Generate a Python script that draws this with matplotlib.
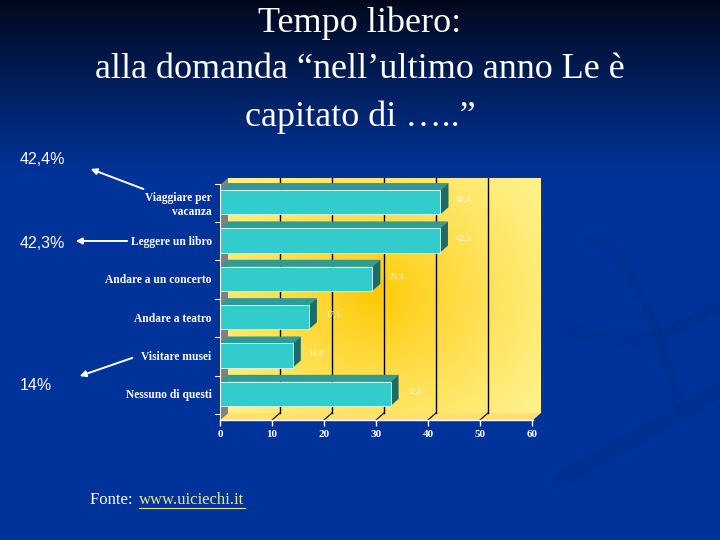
import numpy as np
import matplotlib
matplotlib.use("Agg")
import matplotlib.pyplot as plt
from matplotlib.patches import Polygon

# data
categorie = ["Viaggiare per\nvacanza", "Leggere un libro", "Andare a un concerto",
             "Andare a teatro", "Visitare musei", "Nessuno di questi"]
valori = [42.4, 42.3, 29.3, 17.1, 14.0, 32.8]
etichette = ["42,4", "42,3", "29,3", "17,1", "14,0", "32,8"]
xticks = [0, 10, 20, 30, 40, 50, 60]
richiami = ["42,4%", "42,3%", "14%"]

W, H = 720, 540
fig = plt.figure(figsize=(7.2, 5.4), dpi=100)

# background: dark navy on top fading to blue
bg = fig.add_axes([0, 0, 1, 1])
bg.set_xlim(0, W)
bg.set_ylim(H, 0)
bg.axis("off")
yy = np.linspace(0, 1, 200)[:, None]
top = np.array([0.0, 0.03, 0.10])
mid = np.array([0.0, 0.2, 0.6])
t = np.clip(yy / 0.32, 0, 1) ** 0.9
grad = top + (mid - top) * t
grad = np.repeat(grad[:, None, :], 2, axis=1).reshape(200, 2, 3)
bg.imshow(grad, extent=[0, W, H, 0], aspect="auto", zorder=0)

# faint swooshes on the right
sw = dict(color="#002a80", alpha=0.25, solid_capstyle="round", zorder=1)
s = np.linspace(0, 1, 60)
bg.plot(570 + 150 * s, 330 - 25 * s + 20 * np.sin(np.pi * s), lw=9, **sw)
bg.plot(560 + 160 * s, 480 - 90 * s, lw=12, **sw)
bg.plot(590 + 90 * s, 240 + 170 * s ** 2, lw=7, **sw)

# title
for txt, y in zip(["Tempo libero:", "alla domanda \u201cnell\u2019ultimo anno Le \u00e8",
                   "capitato di \u2026..\u201d"], [23, 70, 117]):
    bg.text(360, y, txt, color="white", fontsize=26, family="Liberation Serif",
            ha="center", va="center")

# chart axes: value 0 at x=220, value 60 at x=532
x0, x1 = 220, 541
y_top, y_bot = 178, 420
ax = fig.add_axes([x0 / W, 1 - y_bot / H, (x1 - x0) / W, (y_bot - y_top) / H])
xmax = 60 * (x1 - x0) / 312.0
n = len(categorie)
pos = np.arange(n)
ymin, ymax = -0.63, 5.68
ax.set_xlim(0, xmax)
ax.set_ylim(ymax, ymin)
ax.patch.set_alpha(0)
for sp in ax.spines.values():
    sp.set_visible(False)

dx = 8 * xmax / (x1 - x0)
dy = 7 / 38.3

# back wall with yellow radial gradient
gx, gy = np.meshgrid(np.linspace(0, 1, 200), np.linspace(0, 1, 200))
r = np.sqrt(((gx - 0.47) / 0.75) ** 2 + ((gy - 0.5) / 0.9) ** 2)
r = np.clip(r, 0, 1)
c0 = np.array([1.0, 0.78, 0.0])
c1 = np.array([1.0, 0.97, 0.62])
img = c0 + (c1 - c0) * r[..., None] ** 0.8
ax.imshow(img, extent=[dx, xmax, ymax - dy, ymin], aspect="auto", zorder=0)

# floor and left wall
ax.add_patch(Polygon([(0, ymax), (dx, ymax - dy), (xmax, ymax - dy), (xmax - dx, ymax)],
                     closed=True, fc="#ffe070", ec="none", zorder=1))
ax.add_patch(Polygon([(0, ymax), (dx, ymax - dy), (dx, ymin), (0, ymin + dy)],
                     closed=True, fc="#808080", ec="none", zorder=1))

# gridlines on back wall + ticks on floor
for v in xticks[1:-1]:
    xv = v * 312.0 / 60 * xmax / (x1 - x0) + dx
    ax.plot([xv, xv], [ymin, ymax - dy], color="black", lw=1, zorder=2)
    ax.plot([xv - dx, xv], [ymax, ymax - dy], color="black", lw=0.8, zorder=2)
ax.plot([0, xmax - dx], [ymax, ymax], color="white", lw=1, zorder=6, clip_on=False)

# bars with 3D faces
h = 0.63
ax.barh(pos, valori, height=h, color="#33cccc", edgecolor="#e0ffff", lw=0.6, zorder=4)
for p, v, lab in zip(pos, valori, etichette):
    ytop = p - h / 2
    ybot = p + h / 2
    ax.add_patch(Polygon([(0, ytop), (dx, ytop - dy), (v + dx, ytop - dy), (v, ytop)],
                         closed=True, fc="#2f9a96", ec="none", zorder=3))
    ax.add_patch(Polygon([(v, ytop), (v + dx, ytop - dy), (v + dx, ybot - dy), (v, ybot)],
                         closed=True, fc="#1e6a66", ec="none", zorder=3))
    ax.text(v + dx + 1.5, p - 0.05, lab, color="#fffbe0", fontsize=6.5,
            family="Liberation Serif", va="center", ha="left", zorder=5)

ax.set_xticks([v * 312.0 / 60 * xmax / (x1 - x0) for v in xticks])
ax.set_xticklabels([str(v) for v in xticks], color="white", fontsize=8,
                   family="Liberation Serif", fontweight="bold")
ax.set_yticks(pos)
ax.set_yticklabels(categorie, color="white", fontsize=8.3, family="Liberation Serif",
                   fontweight="bold", linespacing=1.3)
ax.tick_params(axis="y", length=0, pad=6)
ax.tick_params(axis="x", colors="white", length=4, width=1, pad=3)
for b in np.arange(n + 1) - 0.5:
    ax.plot([-1.0, 0], [b + 0.02, b + 0.02], color="white", lw=0.8, clip_on=False, zorder=6)
ax.plot([0, 0], [ymin + dy, ymax], color="white", lw=0.8, zorder=6)

# callouts on the left
bg.text(20, 159, richiami[0], color="white", fontsize=11.5, family="Liberation Sans", va="center")
bg.text(20, 243, richiami[1], color="white", fontsize=11.5, family="Liberation Sans", va="center")
bg.text(20, 386, richiami[2], color="white", fontsize=11.5, family="Liberation Sans", va="center")
ap = dict(arrowstyle="-|>", color="white", lw=1.4, mutation_scale=9)
bg.annotate("", xy=(88, 168), xytext=(146, 190), arrowprops=ap)
bg.annotate("", xy=(73, 241), xytext=(130, 241), arrowprops=ap)
bg.annotate("", xy=(77, 377), xytext=(135, 357), arrowprops=ap)

# footer
bg.text(90, 500, "Fonte: ", color="white", fontsize=12, family="Liberation Serif", va="center")
bg.text(139, 500, "www.uiciechi.it", color="#e8e890", fontsize=12,
        family="Liberation Serif", va="center")
bg.plot([139, 245], [508, 508], color="#e8e890", lw=0.8)

fig.savefig("out.png", dpi=100)
